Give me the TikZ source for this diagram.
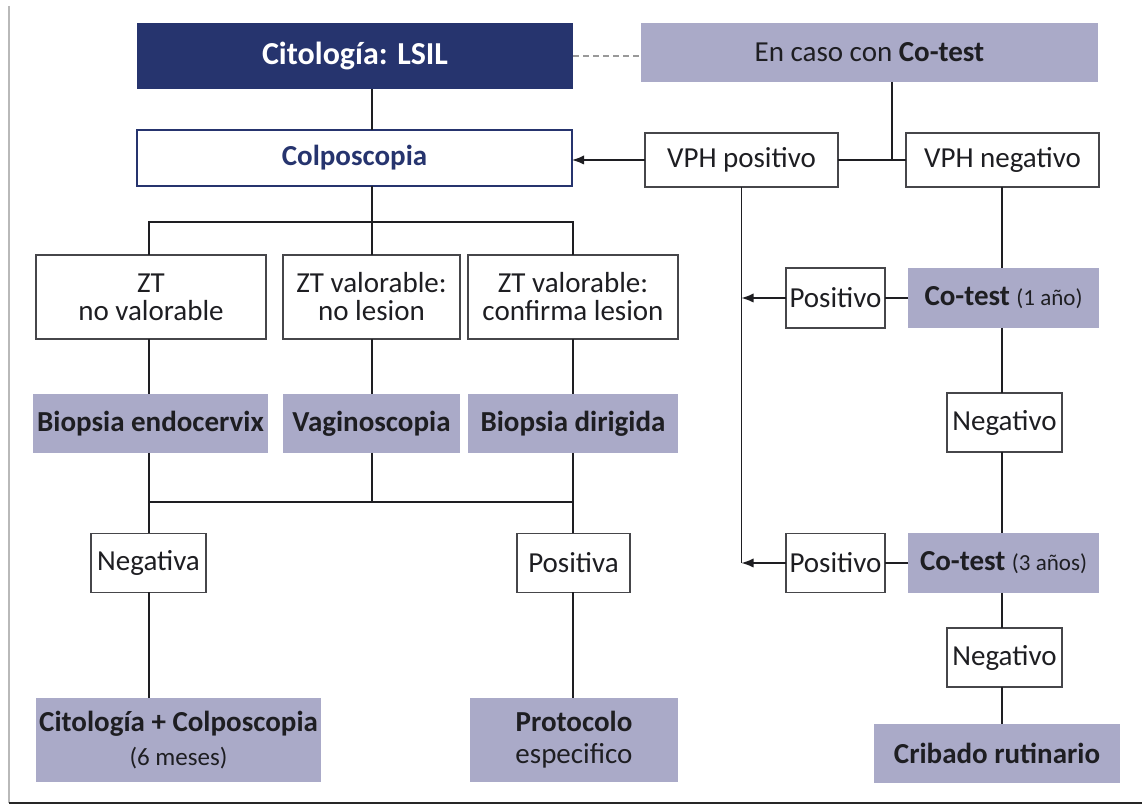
\documentclass[tikz,border=0pt]{standalone}
\usepackage{fontspec}
\setmainfont{Carlito}
\usetikzlibrary{arrows.meta}
\definecolor{navy}{RGB}{38,52,110}
\definecolor{lav}{RGB}{170,170,200}
\definecolor{ink}{RGB}{30,30,34}
\definecolor{edge}{RGB}{70,70,74}
\begin{document}
\begin{tikzpicture}[x=0.5pt,y=-0.5pt,
  sz/.style 2 args={minimum width=#1*0.5pt, minimum height=#2*0.5pt},
  base/.style={inner sep=0pt, outer sep=0pt, align=center, text=ink,
    font=\fontsize{14.5}{14}\selectfont},
  whitebox/.style={base, draw=edge, line width=0.8pt, fill=white},
  graybox/.style={base, fill=lav, font=\fontsize{14.5}{16}\selectfont\bfseries},
  link/.style={draw=ink, line width=0.65pt},
  arr/.style={link, -{Latex[length=6pt,width=4.6pt]}}]
\useasboundingbox (0,0) rectangle (1142,807);

% page frame
\draw[gray!55, line width=1.4pt] (9,6) -- (9,803);
\draw[black!85, line width=1.2pt] (9,803) -- (1142,803);

% column guides
\coordinate (cL) at (149,0);
\coordinate (cM) at (372,0);
\coordinate (cR) at (573,0);
\coordinate (cX) at (892,0);
\coordinate (cN) at (1002,0);

% left branch
\node[base, sz={436}{66}, fill=navy, text=white,
  font=\fontsize{16}{18}\selectfont\bfseries] (lsil) at (355,56) {Citología: LSIL};
\node[base, sz={435}{56}, draw=navy, line width=1.2pt, fill=white, text=navy,
  font=\fontsize{14.5}{16}\selectfont\bfseries] (colp) at (354.5,158) {Colposcopia};

\node[whitebox, sz={230}{84}] (zt1) at (151,297) {ZT\\no valorable};
\node[whitebox, sz={177}{84}] (zt2) at (371.5,297) {ZT valorable:\\no lesion};
\node[whitebox, sz={210}{84}] (zt3) at (573,297) {ZT valorable:\\confirma lesion};

\node[graybox, sz={235}{59}] (be) at (150.5,423.5) {Biopsia endocervix};
\node[graybox, sz={177}{59}] (vag) at (371.5,423.5) {Vaginoscopia};
\node[graybox, sz={210}{59}] (bd) at (573,423.5) {Biopsia dirigida};

\node[whitebox, sz={115}{59}] (neg) at (148.5,563) {Negativa};
\node[whitebox, sz={113}{59}] (pos) at (573.5,563) {Positiva};

\node[graybox, sz={285}{84}] (ccol) at (178.5,740)
  {Citología + Colposcopia\\[1pt]{\fontsize{12.5}{13}\selectfont\mdseries (6 meses)}};
\node[graybox, sz={208}{84}] (prot) at (574,740)
  {Protocolo\\{\mdseries especifico}};

% co-test branch
\node[base, sz={457}{59}, fill=lav] (cot) at (869.5,52.5) {En caso con \textbf{Co-test}};
\node[whitebox, sz={193}{54}] (vphp) at (741.5,160) {VPH positivo};
\node[whitebox, sz={193}{54}] (vphn) at (1002.5,160) {VPH negativo};

\node[graybox, sz={191}{60}] (ct1) at (1003.5,298)
  {Co-test {\fontsize{11.5}{12}\selectfont\mdseries (1 año)}};
\node[whitebox, sz={99}{60}] (p1) at (835.5,298) {Positivo};
\node[whitebox, sz={115}{59}] (n1) at (1004.5,422.5) {Negativo};
\node[graybox, sz={191}{60}] (ct2) at (1003.5,563)
  {Co-test {\fontsize{11.5}{12}\selectfont\mdseries (3 años)}};
\node[whitebox, sz={99}{59}] (p2) at (835.5,563) {Positivo};
\node[whitebox, sz={115}{59}] (n2) at (1004.5,657.5) {Negativo};
\node[graybox, sz={246}{59}] (crib) at (997,753.5) {Cribado rutinario};

% connectors: left branch
\draw[gray!80, line width=0.6pt, dash pattern=on 3pt off 2pt]
  (lsil.east) -- (lsil.east -| cot.west);
\draw[link] (lsil.south -| cM) -- (colp.north -| cM);
\coordinate (j1) at (372,222);
\draw[link] (colp.south -| cM) -- (j1);
\draw[link] (zt1.north -| cL) |- (j1) -| (zt3.north -| cR);
\draw[link] (j1) -- (zt2.north -| cM);
\draw[link] (zt1.south -| cL) -- (be.north -| cL);
\draw[link] (zt2.south -| cM) -- (vag.north -| cM);
\draw[link] (zt3.south -| cR) -- (bd.north -| cR);
\coordinate (j2) at (372,502);
\draw[link] (be.south -| cL) -- (neg.north -| cL);
\draw[link] (bd.south -| cR) -- (pos.north -| cR);
\draw[link] (cL |- j2) -- (cR |- j2);
\draw[link] (vag.south -| cM) -- (j2);
\draw[link] (neg.south -| cL) -- (ccol.north -| cL);
\draw[link] (pos.south -| cR) -- (prot.north -| cR);

% connectors: co-test branch
\draw[arr] (vphp.west) -- (vphp.west -| colp.east);
\draw[link] (vphp.east) -- (vphn.west);
\draw[link] (cot.south -| cX) -- (cX |- vphp.east);
\draw[link] (vphp.south) -- (vphp.south |- p2.west);
\draw[link] (vphn.south -| cN) -- (ct1.north -| cN);
\draw[link] (ct1.west) -- (p1.east);
\draw[arr] (p1.west) -- (p1.west -| vphp.south);
\draw[link] (ct1.south -| cN) -- (n1.north -| cN);
\draw[link] (n1.south -| cN) -- (ct2.north -| cN);
\draw[link] (ct2.west) -- (p2.east);
\draw[arr] (p2.west) -- (p2.west -| vphp.south);
\draw[link] (ct2.south -| cN) -- (n2.north -| cN);
\draw[link] (n2.south -| cN) -- (crib.north -| cN);
\end{tikzpicture}
\end{document}
